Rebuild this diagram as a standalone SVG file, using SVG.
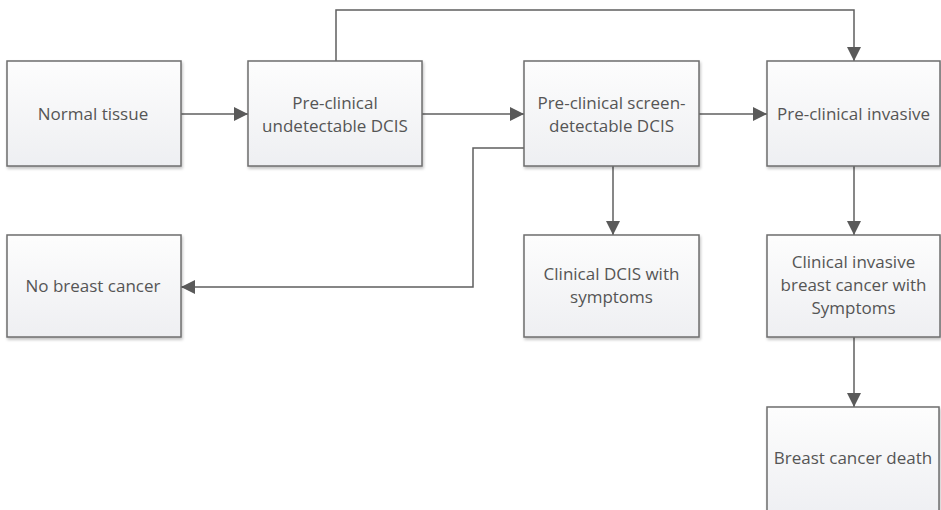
<svg xmlns="http://www.w3.org/2000/svg" width="941" height="510" viewBox="0 0 941 510">
<defs>
<linearGradient id="g" x1="0" y1="0" x2="0" y2="1">
<stop offset="0" stop-color="#fdfdfd"/>
<stop offset="1" stop-color="#eeeff2"/>
</linearGradient>
<filter id="sh" x="-5%" y="-5%" width="115%" height="115%">
<feGaussianBlur in="SourceAlpha" stdDeviation="1.5"/>
<feOffset dx="1" dy="2" result="b"/>
<feComponentTransfer><feFuncA type="linear" slope="0.25"/></feComponentTransfer>
<feMerge><feMergeNode/><feMergeNode in="SourceGraphic"/></feMerge>
</filter>
<marker id="ah" viewBox="0 0 14 14" refX="14" refY="7" markerWidth="14" markerHeight="14" markerUnits="userSpaceOnUse" orient="auto">
<path d="M0,0 L14,7 L0,14 Z" fill="#5a5a5a"/>
</marker>
</defs>
<style>
.box{fill:url(#g);stroke:#6e6e6e;stroke-width:1.5;filter:url(#sh)}
.t{font-family:"Open Sans","Noto Sans",sans-serif;font-size:17px;fill:#555;text-anchor:middle}
.c{fill:none;stroke:#5f5f5f;stroke-width:1.5}
</style>
<rect width="941" height="510" fill="#fff"/>
<g id="connectors">
<path class="c" d="M181,114 H248" marker-end="url(#ah)"/>
<path class="c" d="M422,114 H524" marker-end="url(#ah)"/>
<path class="c" d="M699,114 H767" marker-end="url(#ah)"/>
<path class="c" d="M336,61 V10 H854 V61" marker-end="url(#ah)"/>
<path class="c" d="M524,148 H473 V287 H181" marker-end="url(#ah)"/>
<path class="c" d="M613,166 V235" marker-end="url(#ah)"/>
<path class="c" d="M854,166 V235" marker-end="url(#ah)"/>
<path class="c" d="M854,337 V407" marker-end="url(#ah)"/>
</g>
<g id="normal-tissue">
<rect class="box" x="7" y="61" width="174" height="105"/>
<text class="t" x="93" y="120">Normal tissue</text>
</g>
<g id="undetectable-dcis">
<rect class="box" x="248" y="61" width="174" height="105"/>
<text class="t" x="335" y="109">Pre-clinical</text>
<text class="t" x="335" y="132">undetectable DCIS</text>
</g>
<g id="screen-detectable-dcis">
<rect class="box" x="524" y="61" width="175" height="105"/>
<text class="t" x="611.5" y="109">Pre-clinical screen-</text>
<text class="t" x="611.5" y="132">detectable DCIS</text>
</g>
<g id="preclinical-invasive">
<rect class="box" x="767" y="61" width="173" height="105"/>
<text class="t" x="853.5" y="120">Pre-clinical invasive</text>
</g>
<g id="no-breast-cancer">
<rect class="box" x="7" y="235" width="174" height="102"/>
<text class="t" x="93" y="292">No breast cancer</text>
</g>
<g id="clinical-dcis">
<rect class="box" x="524" y="235" width="175" height="102"/>
<text class="t" x="611.5" y="280">Clinical DCIS with</text>
<text class="t" x="611.5" y="303">symptoms</text>
</g>
<g id="clinical-invasive">
<rect class="box" x="767" y="235" width="173" height="102"/>
<text class="t" x="853.5" y="268">Clinical invasive</text>
<text class="t" x="853.5" y="291">breast cancer with</text>
<text class="t" x="853.5" y="314">Symptoms</text>
</g>
<g id="breast-cancer-death">
<rect class="box" x="767" y="407" width="172" height="110"/>
<text class="t" x="853" y="464">Breast cancer death</text>
</g>
</svg>
